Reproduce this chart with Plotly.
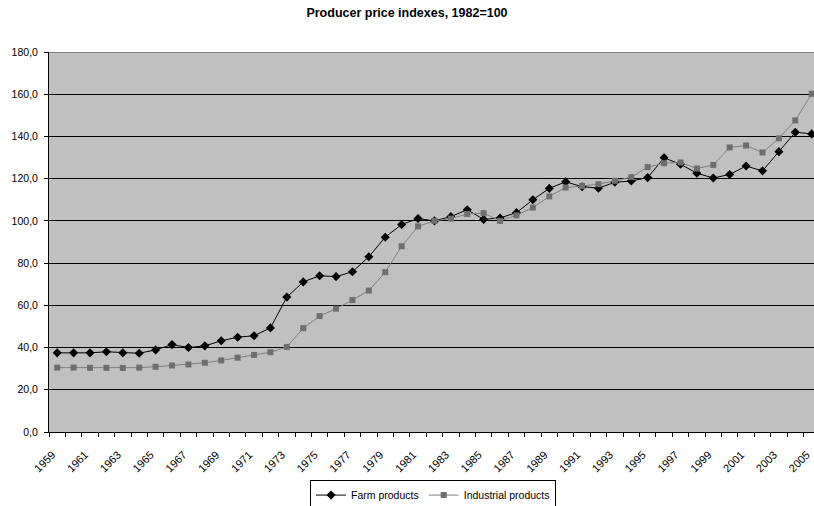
import plotly.graph_objects as go

years = list(range(1959, 2006))
farm_products = [37.5, 37.5, 37.5, 38.0, 37.5, 37.3, 38.9, 41.4, 40.0, 40.8,
                 43.2, 44.9, 45.6, 49.3, 63.9, 71.1, 74.0, 73.6, 75.9, 83.0,
                 92.3, 98.3, 101.1, 100.0, 102.0, 105.3, 100.7, 101.4, 103.9, 110.0,
                 115.4, 118.5, 116.2, 115.5, 118.3, 118.9, 120.5, 129.9, 126.8, 122.6,
                 120.3, 122.0, 126.0, 123.7, 132.8, 142.0, 141.2]
industrial_products = [30.5, 30.5, 30.4, 30.4, 30.3, 30.5, 30.9, 31.5, 32.0, 32.8,
                       33.9, 35.2, 36.5, 37.8, 40.3, 49.2, 54.9, 58.4, 62.5, 67.0,
                       75.7, 88.0, 97.4, 100.0, 101.1, 103.3, 103.7, 100.0, 102.6, 106.3,
                       111.6, 115.8, 116.5, 117.4, 119.0, 120.7, 125.5, 127.3, 127.7, 124.8,
                       126.5, 134.8, 135.7, 132.4, 139.1, 147.6, 160.2]
y_ticks = [0, 20, 40, 60, 80, 100, 120, 140, 160, 180]
y_tick_labels = ["0,0", "20,0", "40,0", "60,0", "80,0", "100,0", "120,0", "140,0", "160,0", "180,0"]

idx = list(range(len(years)))
label_idx = idx[::2]
label_text = [str(years[i]) for i in label_idx]
# rotated labels sit slightly left of the category centre, as in the original
label_pos = [i - 0.3 for i in label_idx]

FONT = "Arial, Liberation Sans, sans-serif"

fig = go.Figure()
fig.add_trace(go.Scatter(
    x=idx, y=farm_products, name="Farm products", mode="lines+markers",
    line=dict(color="#000000", width=1),
    marker=dict(symbol="diamond", size=7, color="#000000"),
    hovertext=[str(y) for y in years],
))
fig.add_trace(go.Scatter(
    x=idx, y=industrial_products, name="Industrial products", mode="lines+markers",
    line=dict(color="#808080", width=1),
    marker=dict(symbol="square", size=6, color="#6e6e6e"),
    hovertext=[str(y) for y in years],
))

fig.update_layout(
    width=814, height=506,
    margin=dict(l=49, r=0, t=52, b=73.5, autoexpand=False),
    paper_bgcolor="white",
    plot_bgcolor="#C0C0C0",
    font=dict(family=FONT, size=10.5, color="#000000"),
    title=dict(text="<b>Producer price indexes, 1982=100</b>", x=0.5, xref="container",
               y=1 - 13 / 506, yref="container", yanchor="middle",
               font=dict(family=FONT, size=12.5, color="#000000")),
    showlegend=True,
    legend=dict(orientation="h", x=0.502, xanchor="center", y=-0.166, yanchor="middle",
                bordercolor="#000000", borderwidth=1, bgcolor="white",
                font=dict(family=FONT, size=10.5), itemwidth=30,
                tracegroupgap=0),
    xaxis=dict(
        range=[-0.5, 46.14], tickmode="array", tickvals=label_pos, ticktext=label_text,
        tickangle=-45, ticks="", showgrid=False, zeroline=False,
        showline=True, linecolor="#000000", linewidth=1,
        tickfont=dict(family=FONT, size=11),
        ticklabelstandoff=11,
        minor=dict(tickmode="linear", tick0=-0.5, dtick=1, ticks="outside",
                   ticklen=4, tickcolor="#000000", tickwidth=1, showgrid=False),
        fixedrange=True,
    ),
    yaxis=dict(
        range=[0, 180], tickmode="array", tickvals=y_ticks, ticktext=y_tick_labels,
        ticks="outside", ticklen=4, tickcolor="#000000", tickwidth=1,
        showgrid=True, gridcolor="#000000", gridwidth=1, zeroline=False,
        showline=True, linecolor="#000000", linewidth=1,
        tickfont=dict(family=FONT, size=10.5),
        ticklabelstandoff=4,
        fixedrange=True,
    ),
)

# grey top border of the plot area
fig.add_shape(type="line", xref="paper", yref="y", x0=0, x1=1, y0=180, y1=180,
              line=dict(color="#808080", width=2))

fig.write_html("out.html",
               config={"displayModeBar": False},
               post_script="document.body.style.margin='0';document.body.style.overflow='hidden';")
